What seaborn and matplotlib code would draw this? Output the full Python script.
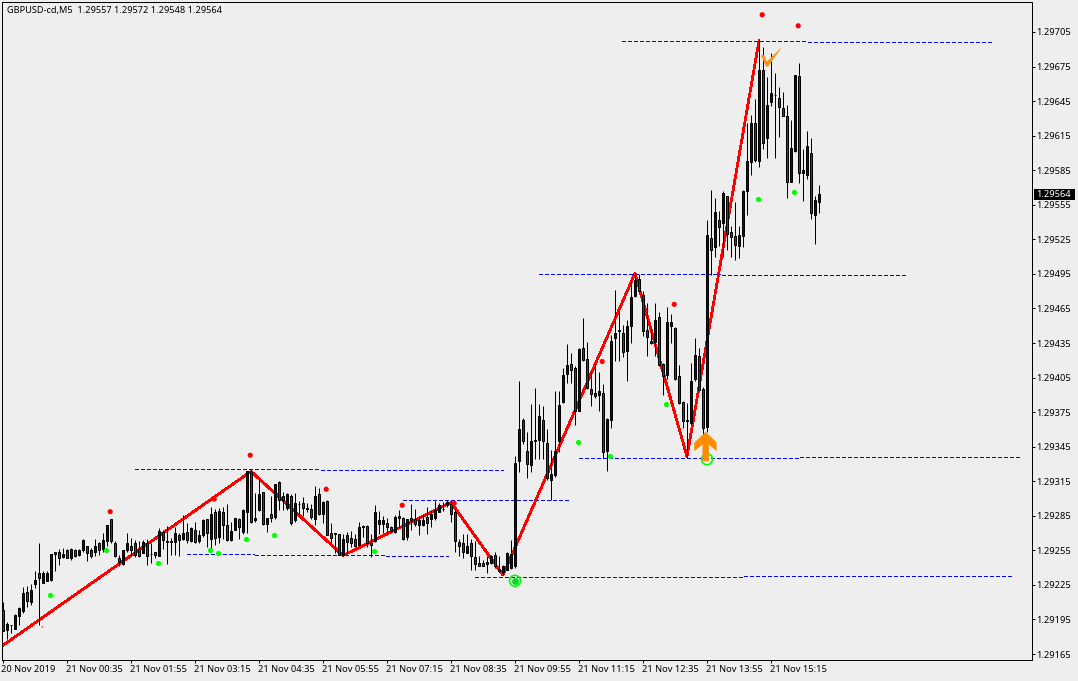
import numpy as np
import pandas as pd
import matplotlib
matplotlib.use('Agg')
import matplotlib.pyplot as plt
import seaborn as sns
from matplotlib.patches import Rectangle
from matplotlib.path import Path
from matplotlib.transforms import ScaledTranslation, blended_transform_factory

# all prices below are points above 1.29000 (1.29564 -> 564)
base_price = 1.29

opens = [203,186,190,187,198,202,219,210,226,235,
         227,228,229,254,254,249,255,248,255,251,
         255,259,255,254,261,256,263,282,261,248,
         243,255,259,261,256,253,261,252,254,250,
         271,262,262,262,268,265,271,263,273,263,
         268,282,265,288,267,288,277,264,273,282,
         271,288,324,281,290,306,278,287,284,314,
         302,292,302,281,295,296,292,291,282,304,
         287,298,270,270,269,251,268,266,265,260,
         275,276,261,263,278,278,279,275,271,285,
         283,267,283,282,277,277,284,282,283,288,
         291,294,295,288,262,261,253,261,249,244,
         244,243,244,251,239,236,238,240,241,333,
         368,341,329,350,351,368,348,316,320,350,
         384,408,417,413,376,431,421,395,392,390,
         392,341,368,439,445,444,428,450,476,491,
         477,446,437,436,458,417,407,450,448,406,
         384,368,366,404,424,395,362,526,518,542,
         539,563,531,528,519,528,567,592,626,593,
         672,613,644,650,648,639,632,575,602,667,
         583,581,600,546,557]
highs = [210,193,190,200,206,223,224,226,237,261,
         237,237,252,254,256,257,256,257,256,256,
         265,259,257,265,262,270,277,282,263,251,
         255,270,266,264,263,264,265,261,254,274,
         273,276,266,275,270,286,279,275,280,273,
         282,282,293,291,292,293,295,280,283,283,
         291,324,324,305,318,306,283,302,313,315,
         306,305,304,305,298,301,296,295,311,309,
         298,299,279,270,269,269,271,272,269,280,
         277,277,269,294,289,285,283,276,286,290,
         284,282,295,291,285,286,293,289,298,296,
         297,299,298,292,265,269,269,265,263,250,
         247,250,251,254,250,242,254,264,337,402,
         370,358,382,396,382,380,360,342,393,393,
         413,434,426,415,431,457,436,410,418,410,
         399,370,442,481,463,451,455,490,496,495,
         480,470,447,470,462,418,466,460,449,416,
         385,383,418,439,431,397,542,568,561,550,
         567,563,537,557,537,568,626,633,647,698,
         692,666,687,669,657,653,642,629,668,678,
         603,619,613,563,572]
lows = [185,178,183,187,190,201,206,208,222,190,
        227,228,228,237,242,248,248,247,249,250,
        254,246,248,250,251,254,259,261,249,241,
        242,254,250,249,249,253,242,244,248,250,
        256,243,251,251,250,264,261,262,261,261,
        267,258,257,260,261,265,263,263,273,265,
        269,270,279,280,289,277,271,280,282,290,
        290,290,277,280,285,285,288,282,277,286,
        279,268,261,253,251,250,253,258,258,259,
        267,258,249,262,269,270,268,270,270,275,
        264,264,273,276,268,276,269,275,281,288,
        289,293,280,254,250,248,253,238,238,241,
        241,235,243,240,236,234,238,239,240,323,
        347,318,323,334,334,334,316,299,319,340,
        383,400,400,364,376,419,395,380,387,376,
        335,324,361,419,419,423,402,435,475,479,
        441,424,434,424,415,390,404,435,403,382,
        361,336,365,402,394,356,358,494,510,519,
        510,516,510,507,509,518,546,581,592,588,
        603,596,641,596,614,632,561,575,601,574,
        558,577,543,521,548]
closes = [185,191,190,199,205,218,211,221,229,231,
          235,235,252,252,248,252,248,256,250,255,
          264,253,250,259,255,264,277,263,250,245,
          255,261,255,251,250,262,250,252,251,272,
          264,263,263,270,264,270,264,274,262,268,
          281,270,287,266,289,277,264,272,283,275,
          290,324,280,283,304,278,283,283,313,299,
          299,304,279,296,295,292,291,284,302,287,
          297,268,266,269,251,265,262,261,259,275,
          276,261,260,288,281,281,275,272,284,283,
          265,282,281,278,281,281,279,287,290,294,
          291,297,287,263,259,254,259,250,243,241,
          241,245,250,241,237,241,253,252,331,360,
          350,330,350,351,372,350,318,321,341,381,
          407,416,412,376,430,420,396,391,389,393,
          340,369,437,444,446,427,450,475,490,480,
          445,440,435,455,416,406,453,453,404,383,
          367,367,402,425,394,361,529,516,549,536,
          565,530,527,520,529,567,593,626,594,672,
          609,642,652,650,640,632,575,604,668,583,
          585,606,548,559,564]

zigzag_bars = [0, 62, 85, 112, 125, 158, 171, 189]
zigzag_prices = [173, 324, 251, 297, 234, 496, 337, 698]

# the dots sit a little left of their bar in the chart
red_dot_bars = [9.8, 26.8, 52.8, 61.8, 80.8, 99.8, 112.8, 149.8, 167.8, 189.8, 198.8]
red_dot_prices = [189, 289, 300, 338, 308.5, 294.6, 296.3, 419.4, 469, 720.4, 710.8]
red_dot_sizes = [1, 14, 14, 14, 14, 14, 14, 14, 14, 14, 14]
green_dot_bars = [11.8, 25.8, 38.8, 51.8, 53.8, 60.8, 67.8, 92.8, 143.8, 151.8, 165.8, 188.8, 197.8]
green_dot_prices = [217, 255.4, 244.1, 255.4, 252.8, 265, 268.5, 254.5, 349.8, 337.7, 382.9, 560.3, 566.4]

level_starts = [154.7, 201.2, 134.0, 179.7, 144.0, 199.2, 118.0, 185.2, 33.0, 79.5, 100.0, 46.0, 63.0, 95.7]
level_ends = [200.5, 247.2, 179.2, 226.0, 198.7, 254.0, 184.7, 252.2, 78.7, 125.0, 141.2, 62.7, 95.5, 111.2]
level_prices = [697.2, 696.3, 494.9, 494.0, 335.1, 336.0, 231.8, 232.7, 325.6, 324.7, 298.7, 251.8, 250.9, 250.1]

ring_bars = [128, 176]
ring_prices = [229, 334.5]

time_labels = ['20 Nov 2019', '21 Nov 00:35', '21 Nov 01:55', '21 Nov 03:15', '21 Nov 04:35',
               '21 Nov 05:55', '21 Nov 07:15', '21 Nov 08:35', '21 Nov 09:55', '21 Nov 11:15',
               '21 Nov 12:35', '21 Nov 13:55', '21 Nov 15:15']
price_ticks = [165, 195, 225, 255, 285, 315, 345, 375, 405, 435, 465, 495, 525,
               555, 585, 615, 645, 675, 705]
title = 'GBPUSD-cd,M5  1.29557 1.29572 1.29548 1.29564'

# half a pixel in points: snapped lines land one row low, the rest does not
half_px = 0.43


def to_price(points):
    return base_price + np.asarray(points, dtype=float) / 1e5


def free_price(points):
    return to_price(np.asarray(points, dtype=float) - half_px)


bg = '#EEEEEE'
sns.set_theme(style='white', rc={'axes.facecolor': bg, 'figure.facecolor': bg})
plt.rcParams['font.family'] = ['Noto Sans', 'DejaVu Sans']

df = pd.DataFrame({'bar': np.arange(len(opens)), 'open': to_price(opens), 'high': to_price(highs),
                   'low': to_price(lows), 'close': to_price(closes)})
df['color'] = np.where(df['close'] >= df['open'], '#0000A8', '#B01010')

fig = plt.figure(figsize=(10.78, 6.81), dpi=100)
ax = fig.add_axes([2.3 / 1078, 20.7 / 681, 1030 / 1078, 658 / 681])

# support / resistance dashes
levels = ax.hlines(to_price(level_prices), level_starts, level_ends, colors='#0000FF', linewidth=0.72,
                   linestyles=(0, (3.5, 2.5)), capstyle='butt', zorder=1)
levels.set_snap(True)
levels.set_antialiased(False)

sns.lineplot(x=zigzag_bars, y=free_price(zigzag_prices), estimator=None, sort=False, color='#FF0000',
             linewidth=1.25, antialiased=False, ax=ax, zorder=2, legend=False)

# candles
ax.vlines(df['bar'], df['low'], df['high'], colors='black', linewidth=0.72, capstyle='butt', zorder=3)
ax.bar(df['bar'], (df['close'] - df['open']).abs(), bottom=df[['open', 'close']].min(axis=1), width=0.5,
       color=df['color'], edgecolor='black', linewidth=0.72, zorder=3)

sns.scatterplot(x=red_dot_bars, y=free_price(red_dot_prices), color='#FF0000', size=red_dot_sizes,
                sizes=(1, 14), linewidth=0, ax=ax, zorder=4, legend=False)
sns.scatterplot(x=green_dot_bars, y=free_price(green_dot_prices), color='#00FF00', s=14, linewidth=0, ax=ax,
                zorder=4, legend=False)

# signal rings at the two lows
ax.scatter(ring_bars, free_price(ring_prices), s=62, facecolors='none', edgecolors='#00FF00', linewidth=1.2,
           zorder=5)
ax.scatter(ring_bars[:1], free_price(ring_prices[:1]), s=24, color='#00DD22', linewidth=0, zorder=5)

# orange arrow and tick drawn on the chart
arrow_shape = Path([(0, 44), (-34, 11), (-34, -14), (-9, 6), (-9, -44), (10, -44), (10, 6), (33, -14),
                    (33, 13), (0, 44)], closed=True)
check_shape = Path([(-32, 4), (-22, 4), (-14, -15), (33, 30), (-10, -30), (-17, -30), (-32, 4)], closed=True)
ax.plot([175.4], free_price([346.4]), marker=arrow_shape, markersize=21.1, color='#FF8C00', markeredgewidth=0,
        linestyle='none', zorder=6)
ax.plot([191.9], free_price([685]), marker=check_shape, markersize=15.8, color='#F7941D', markeredgewidth=0,
        linestyle='none', zorder=6)

# bar i sits at pixel 3 + 4i
ax.set_xlim(-0.175, 257.325)
ax.set_ylim(to_price(160 - half_px), to_price(731.2 - half_px))

ax.set_xticks(np.arange(len(time_labels)) * 16)
ax.set_xticklabels(time_labels, ha='left', fontsize=6.7, color='black')
ax.yaxis.tick_right()
ax.set_yticks(to_price(price_ticks))
ax.set_yticklabels([f'{v:.5f}' for v in to_price(price_ticks)], fontsize=6.7, color='black')
ax.tick_params(axis='x', length=2.5, width=0.72, pad=1, color='black', bottom=True)
ax.tick_params(axis='y', length=2.5, width=0.72, pad=0, color='black', right=True, left=False)
shift = ScaledTranslation(-1.5 / 100, 0, fig.dpi_scale_trans)
for label in ax.get_xticklabels():
    label.set_transform(label.get_transform() + shift)
for spine in ax.spines.values():
    spine.set_visible(True)
    spine.set_color('black')
    spine.set_linewidth(0.72)

# current price tag
last_price = to_price(closes[-1])
trans = blended_transform_factory(ax.transAxes, ax.transData)
ax.add_patch(Rectangle((1.0015, last_price - 4.6e-5), 0.0398, 9.2e-5, transform=trans, facecolor='black',
                       edgecolor='none', clip_on=False, zorder=7))
ax.text(1.0035, last_price, f'{last_price:.5f}', transform=trans, color='white', fontsize=6.7, va='center',
        ha='left', zorder=8)

fig.text(7 / 1078, 1 - 10 / 681, title, fontsize=6.6, color='black', va='center', ha='left')

fig.savefig('out.png', dpi=100)
